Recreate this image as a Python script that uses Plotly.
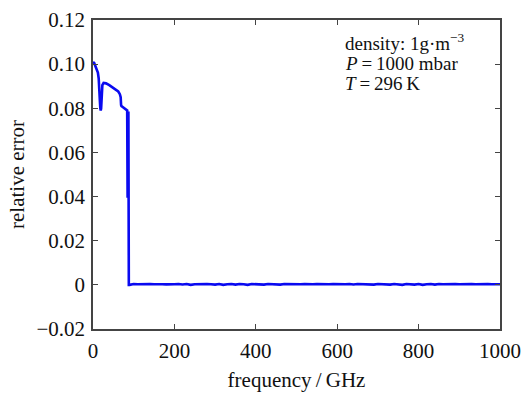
import plotly.graph_objects as go

# low-frequency part (GHz, relative error)
freq_low = [0, 3, 6, 9, 12, 14, 15, 16, 17, 18, 19, 20, 21, 23, 26, 32, 40, 48, 55, 62, 66, 68, 69, 70,
            73, 77, 80, 84, 85, 86, 87, 88]
err_low = [0.1010, 0.1005, 0.0990, 0.0975, 0.0962, 0.0935, 0.0860, 0.0905, 0.0830, 0.0800, 0.0790,
           0.0800, 0.0870, 0.0905, 0.0915, 0.0913, 0.0905, 0.0895, 0.0886, 0.0876, 0.0864, 0.0850,
           0.0815, 0.0810, 0.0806, 0.0800, 0.0795, 0.0790, 0.0400, 0.0400, 0.0785, 0.0000]

# high-frequency part: near zero with small ripples
freq_high = [90, 100, 110, 120, 130, 140, 150, 160, 170, 180, 190, 200, 210, 220, 230, 240, 250, 260,
             270, 280, 290, 300, 310, 320, 330, 340, 350, 360, 370, 380, 390, 400, 410, 420, 430, 440,
             450, 460, 470, 480, 490, 500, 510, 520, 530, 540, 550, 560, 570, 580, 590, 600, 610, 620,
             630, 640, 650, 660, 670, 680, 690, 700, 710, 720, 730, 740, 750, 760, 770, 780, 790, 800,
             810, 820, 830, 840, 850, 860, 870, 880, 890, 900, 910, 920, 930, 940, 950, 960, 970, 980,
             990, 1000]
err_high = [0.0000, 0.0004, 0.0003, 0.0004, 0.0002, 0.0004, 0.0003, 0.0004, 0.0003, 0.0002, 0.0004,
            0.0003, 0.0004, 0.0002, 0.0004, 0.0000, 0.0003, 0.0004, 0.0002, 0.0004, 0.0003, 0.0001,
            0.0004, 0.0000, 0.0003, 0.0004, 0.0001, 0.0004, 0.0003, 0.0000, 0.0004, 0.0002, 0.0003,
            0.0001, 0.0004, 0.0002, 0.0003, 0.0001, 0.0004, 0.0003, 0.0002, 0.0004, 0.0003, 0.0004,
            0.0002, 0.0003, 0.0004, 0.0003, 0.0004, 0.0003, 0.0004, 0.0003, 0.0004, 0.0003, 0.0004,
            0.0002, 0.0004, 0.0003, 0.0004, 0.0003, 0.0001, 0.0004, 0.0002, 0.0003, 0.0001, 0.0004,
            0.0003, 0.0000, 0.0004, 0.0003, 0.0001, 0.0004, 0.0000, 0.0003, 0.0004, 0.0001, 0.0004,
            0.0003, 0.0004, 0.0003, 0.0004, 0.0003, 0.0004, 0.0003, 0.0004, 0.0003, 0.0004, 0.0003,
            0.0004, 0.0003, 0.0004, 0.0003]

x_ticks = [0, 200, 400, 600, 800, 1000]
x_labels = ["0", "200", "400", "600", "800", "1000"]
y_ticks = [-0.02, 0, 0.02, 0.04, 0.06, 0.08, 0.10, 0.12]
y_labels = ["\u22120.02", "0", "0.02", "0.04", "0.06", "0.08", "0.10", "0.12"]

notes = ["density: 1g\u00b7m<sup>\u22123</sup>", "<i>P</i>\u2009=\u20091000 mbar", "<i>T</i>\u2009=\u2009296\u2009K"]

font_family = "Liberation Serif"
axis_color = "#444444"
text_color = "#111111"

fig = go.Figure()
fig.add_trace(go.Scatter(
    x=freq_low + freq_high, y=err_low + err_high, mode="lines",
    line=dict(color="#0a0af0", width=2.6), showlegend=False, hoverinfo="skip"))

axis_common = dict(showline=True, linecolor=axis_color, linewidth=1.5, mirror="ticks",
                   ticks="inside", ticklen=5, tickcolor=axis_color, tickwidth=1.2,
                   showgrid=False, zeroline=False, automargin=False,
                   tickfont=dict(family=font_family, size=21, color=text_color))

fig.update_layout(
    width=521, height=393,
    margin=dict(l=93, r=21, t=20, b=64),
    paper_bgcolor="white", plot_bgcolor="white",
    font=dict(family=font_family, size=21, color=text_color),
    xaxis=dict(range=[0, 1000], tickvals=x_ticks, ticktext=x_labels, ticklabelstandoff=2,
               title=dict(text="frequency\u2009/\u2009GHz", font=dict(family=font_family, size=21), standoff=10),
               **axis_common),
    yaxis=dict(range=[-0.02, 0.12], tickvals=y_ticks, ticktext=y_labels, ticklabelstandoff=2,
               title=dict(text="relative error", font=dict(family=font_family, size=21), standoff=6),
               **axis_common),
)

note_y = [42, 64, 83]
for txt, yp in zip(notes, note_y):
    fig.add_annotation(
        x=343, y=393 - yp, xref="paper", yref="paper", text=txt, showarrow=False,
        xanchor="left", yanchor="middle", align="left",
        font=dict(family=font_family, size=19, color=text_color))

# convert pixel positions to paper coordinates
plot_w, plot_h = 521 - 93 - 21, 393 - 20 - 64
for ann in fig.layout.annotations:
    ann.x = (ann.x - 93) / plot_w
    ann.y = (ann.y - 64) / plot_h

fig.write_html("out.html")
